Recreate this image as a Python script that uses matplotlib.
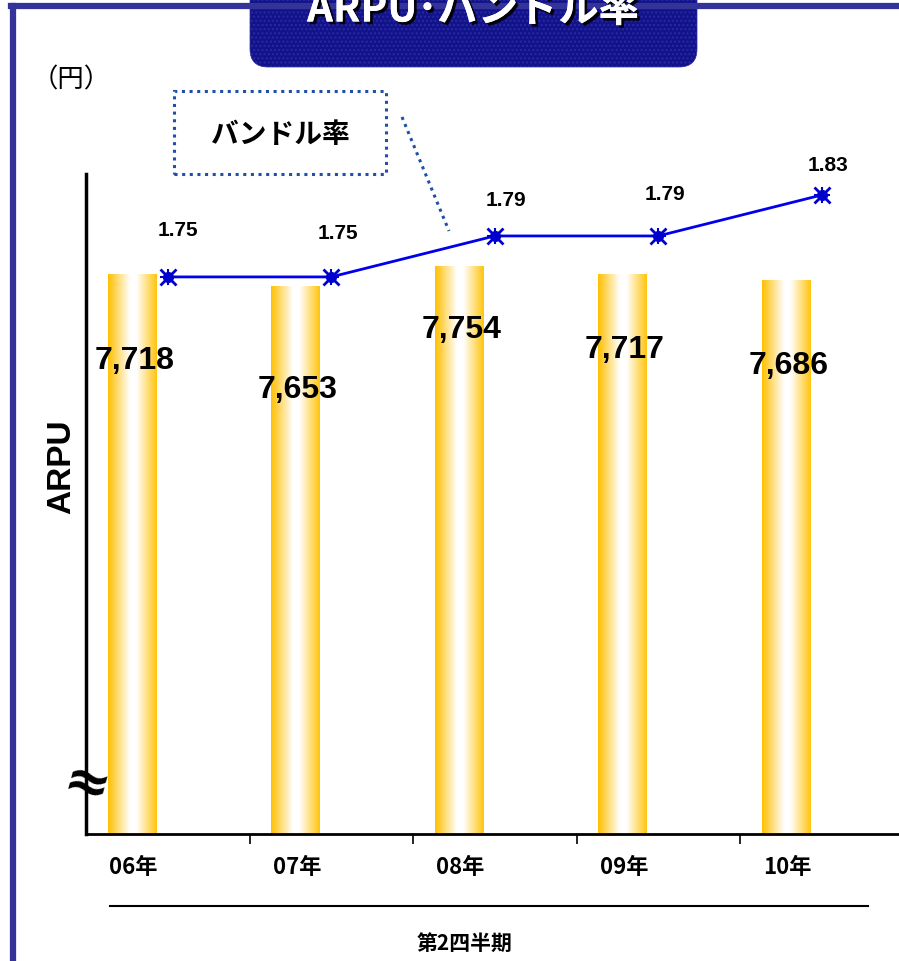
import numpy as np
import matplotlib
matplotlib.use("Agg")
import matplotlib.pyplot as plt
from matplotlib.colors import LinearSegmentedColormap
from matplotlib.patches import FancyBboxPatch, Rectangle
from matplotlib.lines import Line2D
import matplotlib.patheffects as pe

plt.rcParams['font.family'] = ['Noto Sans CJK JP', 'DejaVu Sans']

# データ
years = ["06年", "07年", "08年", "09年", "10年"]
arpu = [7718, 7653, 7754, 7717, 7686]
bundle_rate = [1.75, 1.75, 1.79, 1.79, 1.83]

W, H = 899, 962
fig = plt.figure(figsize=(W / 100, H / 100), dpi=100)

def fx(px):
    return px / W

def fy(py):
    return 1 - py / H

# 外枠
fig.add_artist(Line2D([fx(13), fx(13)], [0, fy(7)], color="#333399", lw=4.5))
fig.add_artist(Line2D([fx(11), 1], [fy(7), fy(7)], color="#333399", lw=4.5))

# グラフ本体
ax = fig.add_axes([fx(86), fy(835), fx(903.5) - fx(86), fy(175) - fy(835)])
x = np.arange(len(years))
bar_off, bar_w = -0.22, 0.294
ymin, ymax = 4890, 8223

cmap = LinearSegmentedColormap.from_list(
    "gold", [(0, "#FFBF00"), (0.45, "#FFFFFF"), (0.58, "#FFFFFF"), (1, "#FFC40D")])
grad = np.linspace(0, 1, 256).reshape(1, -1)
for xi, v in zip(x, arpu):
    ax.imshow(grad, extent=[xi + bar_off - bar_w / 2, xi + bar_off + bar_w / 2, ymin, v],
              aspect="auto", cmap=cmap, zorder=2, interpolation="bilinear")

ax.set_xlim(-0.5, 4.5)
ax.set_ylim(ymin, ymax)
ax.set_aspect("auto")
for s in ["top", "right"]:
    ax.spines[s].set_visible(False)
ax.spines["left"].set_linewidth(2.5)
ax.spines["bottom"].set_linewidth(2)
ax.set_yticks([])
ax.set_xticks([0.5, 1.5, 2.5, 3.5])
ax.set_xticklabels([])
ax.tick_params(axis="x", direction="out", length=7, width=1.2)

# ARPU の値ラベル
label_drop = [86, 102, 62, 75, 85]
for xi, v, d in zip(x, arpu, label_drop):
    ax.annotate(f"{v:,}", (xi + bar_off, v), xytext=(2, -d * 0.72), textcoords="offset points",
                ha="center", va="center", fontsize=23, fontweight="bold",
                family="Liberation Sans", zorder=5)

# 年ラベル
for xi, lab in zip(x, years):
    ax.text(xi + bar_off + 0.01, -0.05, lab, transform=ax.get_xaxis_transform(),
            ha="center", va="center", fontsize=16, fontweight="bold")

# バンドル率（第2軸）
ax2 = ax.twinx()
ax2.set_ylim(1.206, 1.8505)
ax2.axis("off")
ax2.plot(x, bundle_rate, color="#0000EE", lw=2, zorder=3)
ax2.plot(x, bundle_rate, ls="none", marker="o", ms=7, color="#0000CC", zorder=4)
ax2.plot(x, bundle_rate, ls="none", marker="x", ms=11, mew=2, color="#0000CC", zorder=4)
ax2.plot(x, bundle_rate, ls="none", marker="+", ms=11, mew=1.5, color="#0000CC", zorder=4)

rate_off = [(10, 47), (7, 44), (11, 36), (7, 42), (6, 30)]
for xi, r, (dx, dy) in zip(x, bundle_rate, rate_off):
    ax2.annotate(f"{r:.2f}", (xi, r), xytext=(dx * 0.72, dy * 0.72), textcoords="offset points",
                 ha="center", va="center", fontsize=15, fontweight="bold",
                 family="Liberation Sans")

# 軸の省略記号
fig.text(fx(86), fy(786), "≈", ha="center", va="center", fontsize=40,
         fontweight="bold", family="DejaVu Sans", rotation=-15)

# 軸タイトルなど
fig.text(fx(62), fy(467), "ARPU", rotation=90, ha="center", va="center",
         fontsize=24, fontweight="bold", family="Liberation Sans")
fig.text(fx(71), fy(80), "（円）", ha="center", va="center", fontsize=19)
fig.add_artist(Line2D([fx(110), fx(868)], [fy(907), fy(907)], color="black", lw=1.5))
fig.text(fx(465), fy(943), "第2四半期", ha="center", va="center", fontsize=15, fontweight="bold")

# 凡例ボックスと引き出し線
fig.add_artist(Rectangle((fx(174), fy(175)), fx(386) - fx(174), fy(92) - fy(175),
                         fill=False, ec="#1F4FA8", ls=(0, (1, 1.5)), lw=2.2,
                         transform=fig.transFigure))
fig.text(fx(280), fy(135), "バンドル率", ha="center", va="center", fontsize=20, fontweight="bold")
fig.add_artist(Line2D([fx(402), fx(449)], [fy(118), fy(232)], color="#1F4FA8",
                      ls=(0, (1, 1.5)), lw=2.2))

# タイトルバナー
banner = FancyBboxPatch((fx(250), fy(68)), fx(697) - fx(250), fy(-30) - fy(68),
                        boxstyle="round,pad=0,rounding_size=0.02",
                        fc="#12128A", ec="#2A2AA0", hatch="....", lw=0.5,
                        transform=fig.transFigure, mutation_aspect=W / H)
fig.add_artist(banner)
fig.text(fx(473), fy(11), "ARPU･バンドル率", ha="center", va="center", fontsize=29,
         fontweight="bold", color="white",
         path_effects=[pe.withSimplePatchShadow(offset=(2, -2), shadow_rgbFace="black", alpha=0.9),
                       pe.Normal()])

fig.savefig("out.png", dpi=100)
